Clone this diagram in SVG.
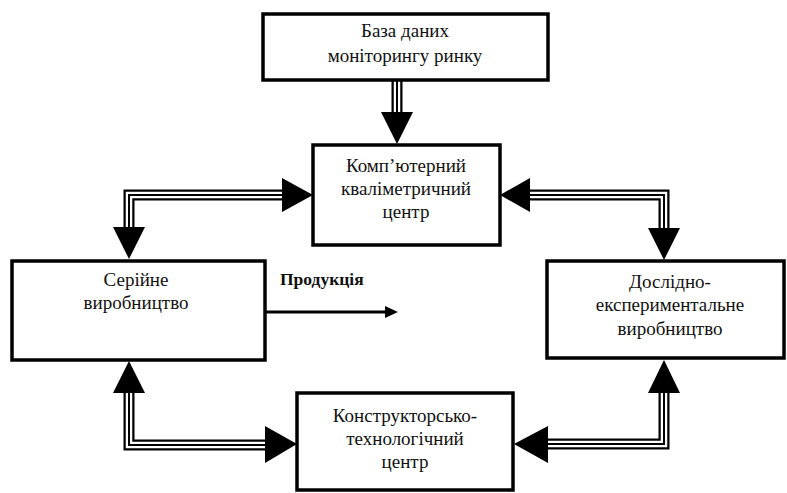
<svg xmlns="http://www.w3.org/2000/svg" width="787" height="493" viewBox="0 0 787 493">
<style>
.box{fill:#fff;stroke:#000;stroke-width:3.5}
.t{font-family:"Liberation Serif","Times New Roman",serif;font-size:19px;fill:#111;text-anchor:middle}
.b{font-family:"Liberation Serif","Times New Roman",serif;font-size:17.5px;font-weight:bold;fill:#111}
.o{fill:none;stroke:#000;stroke-width:11;stroke-linejoin:miter}
.w{fill:none;stroke:#fff;stroke-width:6.5;stroke-linejoin:miter}
.c{fill:none;stroke:#000;stroke-width:2;stroke-linejoin:miter}
.head{fill:#000}
</style>
<rect width="787" height="493" fill="#fff"/>
<g id="connectors">
  <g id="c1">
    <path class="o" d="M397,80 V114"/><path class="w" d="M397,80 V114"/><path class="c" d="M397,80 V114"/>
    <polygon class="head" points="381,112 413,112 397,144"/>
  </g>
  <g id="c2">
    <path class="o" d="M284,195 H129 V229"/><path class="w" d="M284,195 H129 V229"/><path class="c" d="M284,195 H129 V229"/>
    <polygon class="head" points="282,178 282,212 313,195"/>
    <polygon class="head" points="113,227 145,227 129,259"/>
  </g>
  <g id="c3">
    <path class="o" d="M528,195 H664 V229"/><path class="w" d="M528,195 H664 V229"/><path class="c" d="M528,195 H664 V229"/>
    <polygon class="head" points="530,178 530,212 500,195"/>
    <polygon class="head" points="648,228 680,228 664,260"/>
  </g>
  <g id="c4">
    <path class="o" d="M129,391 V445 H267"/><path class="w" d="M129,391 V445 H267"/><path class="c" d="M129,391 V445 H267"/>
    <polygon class="head" points="113,393 145,393 129,361"/>
    <polygon class="head" points="265,426 265,463 297,444"/>
  </g>
  <g id="c5">
    <path class="o" d="M664,391 V444 H546"/><path class="w" d="M664,391 V444 H546"/><path class="c" d="M664,391 V444 H546"/>
    <polygon class="head" points="648,393 680,393 664,360"/>
    <polygon class="head" points="548,426 548,463 514,444"/>
  </g>
  <g id="product">
    <line x1="266" y1="312" x2="388" y2="312" stroke="#000" stroke-width="3"/>
    <polygon class="head" points="385,306 385,318 398,312"/>
    <text class="b" x="280" y="285">Продукція</text>
  </g>
</g>
<g id="db">
  <rect class="box" x="263" y="14" width="285" height="66"/>
  <text class="t" x="405" y="37">База даних</text>
  <text class="t" x="405" y="62">моніторингу ринку</text>
</g>
<g id="kc">
  <rect class="box" x="313" y="145" width="187" height="100"/>
  <text class="t" x="406" y="172">Комп’ютерний</text>
  <text class="t" x="406" y="195">кваліметричний</text>
  <text class="t" x="406" y="218">центр</text>
</g>
<g id="serial">
  <rect class="box" x="12" y="261" width="253" height="99"/>
  <text class="t" x="136" y="286">Серійне</text>
  <text class="t" x="136" y="309">виробництво</text>
</g>
<g id="exp">
  <rect class="box" x="547" y="261" width="237" height="97"/>
  <text class="t" x="670" y="288">Дослідно-</text>
  <text class="t" x="670" y="311">експериментальне</text>
  <text class="t" x="670" y="335">виробництво</text>
</g>
<g id="ktc">
  <rect class="box" x="297" y="393" width="216" height="97"/>
  <text class="t" x="405" y="422">Конструкторсько-</text>
  <text class="t" x="405" y="445">технологічний</text>
  <text class="t" x="405" y="468">центр</text>
</g>
</svg>
